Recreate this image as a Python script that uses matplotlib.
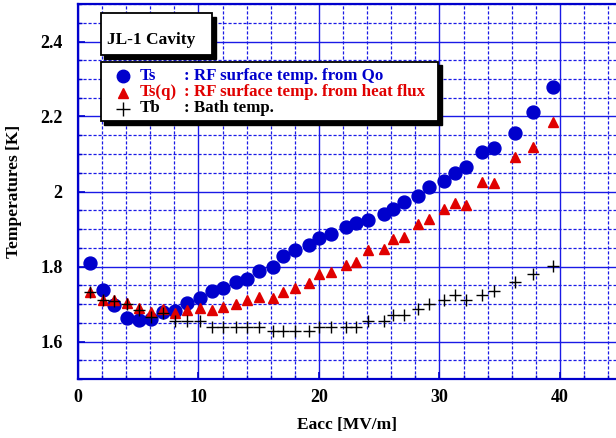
import matplotlib.pyplot as plt
import matplotlib.patches as mpatches
from matplotlib.ticker import MultipleLocator

# ====== DATA ====== #
eacc = [1.0, 2.05, 3.0, 4.05, 5.06, 6.06, 7.08, 8.05, 9.07, 10.1, 11.1, 12.06,
        13.08, 14.05, 15.04, 16.15, 17.04, 18.0, 19.17, 20.0, 21.0, 22.25,
        23.07, 24.1, 25.43, 26.18, 27.08, 28.18, 29.15, 30.37, 31.3, 32.2,
        33.53, 34.5, 36.3, 37.8, 39.4]

ts = [1.809, 1.738, 1.698, 1.664, 1.658, 1.660, 1.678, 1.682, 1.704, 1.716,
      1.735, 1.744, 1.758, 1.768, 1.787, 1.800, 1.827, 1.843, 1.857, 1.876,
      1.887, 1.905, 1.917, 1.924, 1.940, 1.954, 1.972, 1.987, 2.012, 2.027,
      2.049, 2.065, 2.105, 2.117, 2.156, 2.211, 2.278]

ts_q = [1.733, 1.711, 1.711, 1.702, 1.689, 1.680, 1.686, 1.677, 1.684, 1.689,
        1.683, 1.692, 1.700, 1.711, 1.720, 1.717, 1.733, 1.742, 1.756, 1.781,
        1.786, 1.805, 1.813, 1.844, 1.848, 1.874, 1.878, 1.913, 1.927, 1.953,
        1.969, 1.964, 2.025, 2.022, 2.092, 2.118, 2.184]

tb = [1.733, 1.710, 1.709, 1.699, 1.684, 1.665, 1.675, 1.656, 1.656, 1.656,
      1.640, 1.640, 1.640, 1.640, 1.640, 1.627, 1.627, 1.627, 1.627, 1.640,
      1.640, 1.640, 1.640, 1.655, 1.655, 1.672, 1.672, 1.686, 1.699, 1.711,
      1.724, 1.711, 1.724, 1.736, 1.758, 1.780, 1.802]

BLUE = '#0000cc'
RED = '#e00000'
GRID = '#1a1ae6'
FONT = 'Liberation Serif'

plt.rcParams['font.family'] = FONT
plt.rcParams['font.weight'] = 'bold'

fig = plt.figure(figsize=(6.16, 4.38), dpi=100)
ax = fig.add_axes([78/616, 59/438, 538/616, 375/438])

# ====== GRID ====== #
ax.set_xlim(0, 44.65)
ax.set_ylim(1.5, 2.5)
ax.xaxis.set_major_locator(MultipleLocator(10))
ax.xaxis.set_minor_locator(MultipleLocator(2))
ax.yaxis.set_major_locator(MultipleLocator(0.2))
ax.yaxis.set_minor_locator(MultipleLocator(0.05))
ax.grid(which='major', color=GRID, lw=1.0, ls='-')
ax.grid(which='minor', color=GRID, lw=0.9, ls=(0, (2.5, 1.5)))
ax.set_axisbelow(True)

for side in ['left', 'bottom']:
    ax.spines[side].set_color(BLUE)
    ax.spines[side].set_linewidth(1.6)
for side in ['right', 'top']:
    ax.spines[side].set_visible(False)
ax.plot([0, 1], [1, 1], transform=ax.transAxes, color=BLUE, lw=1.6, clip_on=False)

ax.tick_params(which='both', direction='in', colors=BLUE, labelcolor='black',
               labelsize=13)
ax.tick_params(which='major', length=5, width=1.2)
ax.tick_params(which='minor', length=3, width=1.0)
ax.tick_params(axis='x', pad=7)
ax.tick_params(axis='y', pad=11)
ax.set_yticks([1.6, 1.8, 2.0, 2.2, 2.4], ['1.6', '1.8', '2', '2.2', '2.4'])

ax.set_xlabel('Eacc [MV/m]', fontsize=12.5, fontweight='bold', labelpad=8)
ax.set_ylabel('Temperatures [K]', fontsize=12.5, fontweight='bold', labelpad=13)

# ====== DATA SERIES ====== #
ax.plot(eacc, ts, 'o', color=BLUE, ms=9.3, mec=BLUE, zorder=3, clip_on=False)
ax.plot(eacc, ts_q, '^', color=RED, ms=7.5, mec=RED, zorder=4)
ax.plot(eacc, tb, '+', color='black', ms=9, mew=1.0, zorder=5)

# ====== TEXT BOXES ====== #
def px(x, y):
    # pixel position in the image -> axes fraction
    return (x - 78) / 538, (379 - y) / 375

def shadow_box(x0, y0, x1, y1):
    ax0, ay1 = px(x0, y0)
    ax1, ay0 = px(x1, y1)
    dx, dy = 3.5 / 538, 3.5 / 375
    ax.add_patch(mpatches.Rectangle((ax0 + dx, ay0 - dy), ax1 - ax0, ay1 - ay0,
                                    transform=ax.transAxes, fc='black', ec='black',
                                    zorder=6, clip_on=False))
    ax.add_patch(mpatches.Rectangle((ax0, ay0), ax1 - ax0, ay1 - ay0,
                                    transform=ax.transAxes, fc='white', ec='black',
                                    lw=1.3, zorder=7, clip_on=False))

shadow_box(101, 13, 212, 55)
ax.text(*px(107, 40), 'JL-1 Cavity', transform=ax.transAxes, fontsize=12.5,
        fontweight='bold', va='center', ha='left', zorder=8)

shadow_box(101, 62, 438, 121)
rows = [
    ('o', BLUE, 9, 'Ts', ': RF surface temp. from Qo'),
    ('^', RED, 6.5, 'Ts(q)', ': RF surface temp. from heat flux'),
    ('+', 'black', 9.5, 'Tb', ': Bath temp.'),
]
row_y = [75.5, 92.5, 108.5]
for (mk, col, size, name, desc), y in zip(rows, row_y):
    mx, my = px(123, y)
    ax.plot([mx], [my], mk, color=col, ms=size, mew=1.0, transform=ax.transAxes,
            zorder=8, clip_on=False)
    ax.text(*px(140, y), name, transform=ax.transAxes, color=col, fontsize=12.2,
            fontweight='bold', va='center', ha='left', zorder=8)
    ax.text(*px(184, y), desc, transform=ax.transAxes, color=col, fontsize=12.2,
            fontweight='bold', va='center', ha='left', zorder=8)

plt.savefig('out.png', dpi=100)
